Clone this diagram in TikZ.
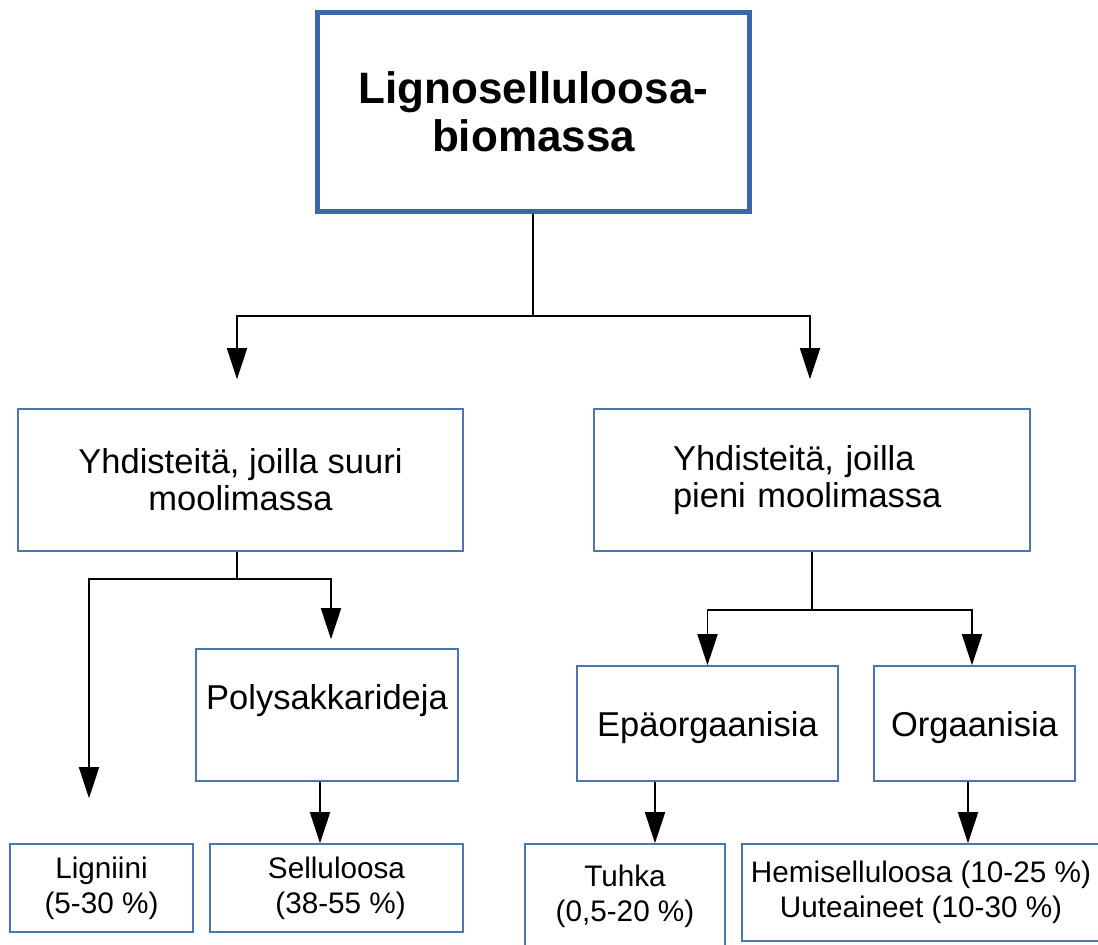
\documentclass[tikz,border=0pt]{standalone}
\usepackage{fontspec}
\setmainfont{Liberation Sans}
\usetikzlibrary{arrows.meta,calc}
\definecolor{frameblue}{HTML}{3A67A6}
\definecolor{boxblue}{HTML}{4A74B4}
\tikzset{
  topblk/.style={draw=frameblue, line width=4.5pt, fill=white, align=center,
                 font=\fontsize{44}{48}\selectfont\bfseries, inner sep=0pt},
  blk/.style={draw=boxblue, line width=1.6pt, fill=white, align=center,
              font=\fontsize{34.5}{37}\selectfont, inner sep=0pt},
  leaf/.style={blk, font=\fontsize{29.7}{35}\selectfont},
  arr/.style={-{Triangle[length=31pt,width=20pt]}, line width=1.8pt},
  % ---- orthogonal connectors: drop, across, down ----
  tree/.style={arr, to path={(\tikztostart) -- ($(\tikztostart)+(0,#1)$) -| (\tikztotarget)}},
}
\newcommand{\lift}[2]{\raisebox{#1}[0pt][0pt]{#2}}

\begin{document}
\begin{tikzpicture}[x=1pt, y=-1pt]
  \useasboundingbox (0,0) rectangle (1098,945);
  \clip (0,0) rectangle (1098,945);
  % level 0
  \node[topblk, minimum width=432, minimum height=199] (bio) at (533.5,112)
     {Lignoselluloosa-\\biomassa};
  % level 1
  \node[blk, minimum width=445, minimum height=142] (suuri) at (240.5,480)
     {Yhdisteitä, joilla suuri\\moolimassa};
  \node[blk, align=left, text width=278, minimum width=436, minimum height=142] (pieni) at (812,480)
     {Yhdisteitä, joilla\\pieni moolimassa};
  % level 2
  \node[blk, minimum width=262, minimum height=132] (poly) at (327,715)
     {\lift{5.6pt}{Polysakkarideja}};
  \node[blk, minimum width=261, minimum height=115] (epa) at (707.5,723.5) {\lift{-12.9pt}{Epäorgaanisia}};
  \node[blk, minimum width=201, minimum height=115] (org) at (974.5,723.5) {\lift{-12.9pt}{Orgaanisia}};
  % level 3
  \node[leaf, minimum width=183, minimum height=88] (lig) at (101.5,888) {Ligniini\\(5-30 \%)};
  \node[leaf, minimum width=253, minimum height=88] (sel) at (336.5,888) {Selluloosa\\\ (38-55 \%)};
  \node[leaf, minimum width=200, minimum height=104] (tuh) at (625,896) {Tuhka\\(0,5-20 \%)};
  \node[leaf, minimum width=358, minimum height=97] (hemi) at (921,892.5)
     {Hemiselluloosa (10-25 \%)\\Uuteaineet (10-30 \%)};
  % connectors
  \draw[tree=102, shorten >=29pt] ([xshift=-0.5]bio.south) to ([xshift=-3.5]suuri.north);
  \draw[tree=102, shorten >=29pt] ([xshift=-0.5]bio.south) to ([xshift=-2]pieni.north);
  \draw[tree=27, shorten >=45pt] ([xshift=-3.5]suuri.south) to ([xshift=-12.5]lig.north);
  \draw[tree=27, shorten >=9pt] ([xshift=-3.5]suuri.south) to ([xshift=4]poly.north);
  \draw[tree=58] (pieni.south) to (epa.north);
  \draw[tree=58] (pieni.south) to ([xshift=-2.5]org.north);
  \draw[arr] ([xshift=-7]poly.south) -- ([xshift=-16.5]sel.north);
  \draw[arr] ([xshift=-52.5]epa.south) -- ([xshift=30]tuh.north);
  \draw[arr] ([xshift=-6.5]org.south) -- ([xshift=47]hemi.north);
\end{tikzpicture}
\end{document}
